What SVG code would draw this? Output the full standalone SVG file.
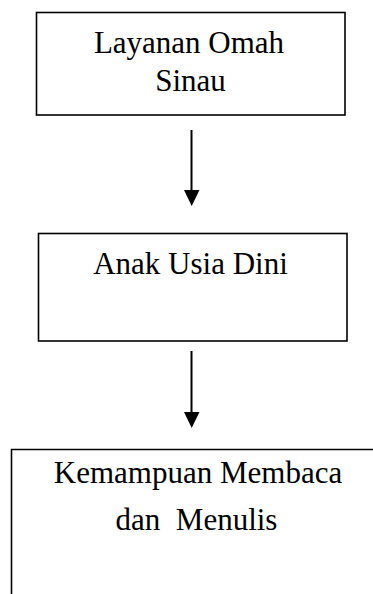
<svg xmlns="http://www.w3.org/2000/svg" width="373" height="594" viewBox="0 0 373 594">
<defs>
<style>
.box{fill:#fff;stroke:#000;stroke-width:1.6}
.lbl{font-family:"Liberation Serif","Times New Roman",serif;font-size:31px;fill:#000;text-anchor:middle}
.conn{stroke:#000;stroke-width:2;fill:none}
</style>
</defs>
<rect width="373" height="594" fill="#fff"/>
<g id="node1">
<rect class="box" x="36.5" y="12.5" width="308.5" height="102.5"/>
<text class="lbl" x="189" y="53">Layanan Omah</text>
<text class="lbl" x="190.5" y="91">Sinau</text>
</g>
<g id="node2">
<rect class="box" x="38.5" y="233.5" width="308.5" height="107.5"/>
<text class="lbl" x="190.5" y="274">Anak Usia Dini</text>
</g>
<g id="node3">
<path class="box" d="M11.5 594 V449.5 H373" fill="none"/>
<text class="lbl" x="198" y="483">Kemampuan Membaca</text>
<text class="lbl" x="196.5" y="530" xml:space="preserve">dan  Menulis</text>
</g>
<g id="connectors">
<line class="conn" x1="191.5" y1="130" x2="191.5" y2="192"/>
<polygon points="184,190 199.5,190 191.7,206" fill="#000"/>
<line class="conn" x1="191.5" y1="351" x2="191.5" y2="414"/>
<polygon points="184,412 199.5,412 191.7,428" fill="#000"/>
</g>
</svg>
